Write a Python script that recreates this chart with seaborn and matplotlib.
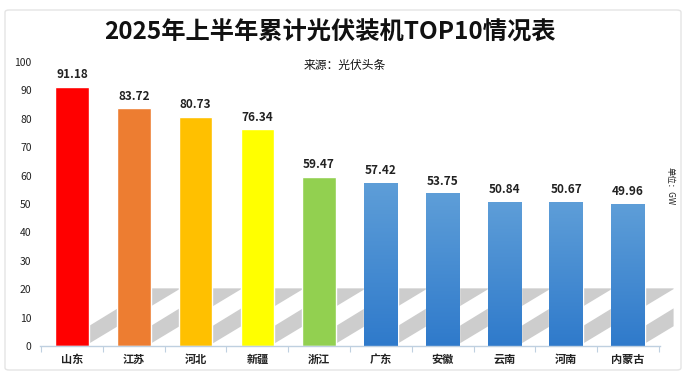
import numpy as np
import pandas as pd
import matplotlib
matplotlib.use("Agg")
import matplotlib.pyplot as plt
import seaborn as sns
from matplotlib.patches import Polygon, FancyBboxPatch

# data
provinces = ["山东", "江苏", "河北", "新疆", "浙江", "广东", "安徽", "云南", "河南", "内蒙古"]
capacity_gw = [91.18, 83.72, 80.73, 76.34, 59.47, 57.42, 53.75, 50.84, 50.67, 49.96]
bar_colors = ["#FF0000", "#ED7D31", "#FFC000", "#FFFF00", "#92D050",
              "#4A8FD3", "#4A8FD3", "#4A8FD3", "#4A8FD3", "#4A8FD3"]

title = "2025年上半年累计光伏装机TOP10情况表"
source = "来源：光伏头条"
unit = "单位：GW"

df = pd.DataFrame({"province": provinces, "gw": capacity_gw})


def clip_right(pts, xmax):
    # cut a polygon at x = xmax (keeps the left part)
    out = []
    for i in range(len(pts)):
        (x1, y1), (x2, y2) = pts[i - 1], pts[i]
        in1, in2 = x1 <= xmax, x2 <= xmax
        if in1 != in2:
            t = (xmax - x1) / (x2 - x1)
            out.append((xmax, y1 + t * (y2 - y1)))
        if in2:
            out.append((x2, y2))
    return out


sns.set_theme(style="white")
plt.rcParams["font.family"] = ["Noto Sans CJK SC", "DejaVu Sans"]

fig = plt.figure(figsize=(6.89, 3.77), dpi=100)
fig.patch.set_facecolor("white")

# card outline
card = FancyBboxPatch((5 / 689, 7 / 377), 676 / 689, 360 / 377,
                      boxstyle="round,pad=0,rounding_size=0.006",
                      transform=fig.transFigure, fill=False,
                      edgecolor="#E4E4E4", linewidth=1.0, zorder=0)
fig.patches.append(card)

ax = fig.add_axes([40 / 689, 31 / 377, 620 / 689, 284 / 377])
sns.barplot(data=df, x="province", y="gw", hue="province", palette=bar_colors,
            legend=False, width=0.54, saturation=1, ax=ax, zorder=3)

# slanted grey band "shadow" cast to the right of each bar
for p in ax.patches[:len(provinces)]:
    xr = p.get_x() + p.get_width()
    pts = [(xr, 0.8), (xr, 7.0), (xr + 1.0, 20.3), (xr + 1.49, 20.3)]
    pts = clip_right(pts, 9.74)
    ax.add_patch(Polygon(pts, closed=True, facecolor="#CDCDCD", edgecolor="none",
                         zorder=1, clip_on=False))

# vertical gradient on the blue bars
grad = np.linspace(0, 1, 256).reshape(-1, 1)
blue_cmap = matplotlib.colors.LinearSegmentedColormap.from_list("b", ["#2F7ACB", "#5E9ED8"])
for p in ax.patches[5:len(provinces)]:
    x0, w, hgt = p.get_x(), p.get_width(), p.get_height()
    im = ax.imshow(grad, cmap=blue_cmap, origin="lower", aspect="auto",
                   extent=[x0, x0 + w, 0, hgt], zorder=4)
    im.set_clip_path(p)

for i, v in enumerate(capacity_gw):
    ax.text(i, v + 2.0, f"{v:.2f}", ha="center", va="bottom",
            fontsize=8.5, fontweight="bold", color="#222222", zorder=5)

ax.set_xlim(-0.52, 9.52)
ax.set_ylim(0, 100)
ax.set_yticks(range(0, 101, 10))
ax.set_xlabel("")
ax.set_ylabel("")
ax.tick_params(axis="y", labelsize=7.5, colors="#222222", length=0, pad=6)
ax.tick_params(axis="x", labelsize=8, colors="#222222", length=0, pad=5)
for lab in ax.get_xticklabels():
    lab.set_fontweight("bold")
ax.set_xticks(np.arange(-0.5, 10, 1), minor=True)
ax.tick_params(axis="x", which="minor", length=4, color="#BFD0E0", width=0.8, bottom=True)

for s in ["top", "right", "left"]:
    ax.spines[s].set_visible(False)
ax.spines["bottom"].set_color("#BFD0E0")
ax.spines["bottom"].set_linewidth(1.0)
ax.spines["bottom"].set_zorder(6)
ax.set_facecolor("none")

fig.text(330 / 689, 1 - 33 / 377, title, ha="center", va="center",
         fontsize=17.5, fontweight="bold", color="#111111")
fig.text(345 / 689, 1 - 65 / 377, source, ha="center", va="center",
         fontsize=8.5, color="#111111")
fig.text(670 / 689, 1 - 186 / 377, unit, ha="center", va="center",
         fontsize=6, rotation=-90, color="#222222")

fig.savefig("out.png", dpi=100, facecolor="white")
